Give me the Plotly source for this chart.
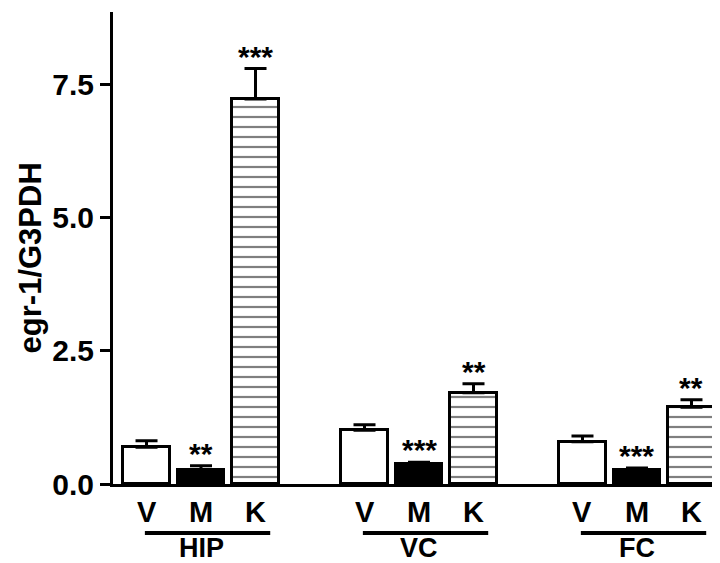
import plotly.graph_objects as go

regions = ["HIP", "VC", "FC"]
treatments = ["V", "M", "K"]
means = {
    "V": [0.69, 1.01, 0.79],
    "M": [0.26, 0.38, 0.26],
    "K": [7.22, 1.71, 1.44],
}
errors = {
    "V": [0.12, 0.10, 0.11],
    "M": [0.08, 0.03, 0.04],
    "K": [0.57, 0.17, 0.14],
}
stars = {
    "V": ["", "", ""],
    "M": ["**", "***", "***"],
    "K": ["***", "**", "**"],
}
y_ticks = [0, 2.5, 5.0, 7.5]
y_title = "egr-1/G3PDH"

FONT = "Liberation Sans, Arial, Helvetica, sans-serif"
GROUP_GAP = 4
PLOT_H = 563 - 4 - 87  # plot area height in px


def xpos(g, t):
    return g * GROUP_GAP + t


def py(px_below_axis):
    # paper coordinate for a pixel offset below the x axis
    return -px_below_axis / PLOT_H


fig = go.Figure()
for ti, t in enumerate(treatments):
    xs = [xpos(g, ti) for g in range(len(regions))]
    marker = dict(line=dict(color="black", width=3))
    if t == "V":
        marker["color"] = "white"
    elif t == "M":
        marker["color"] = "black"
    else:
        marker["color"] = "white"
        marker["pattern"] = dict(shape="-", size=10, solidity=0.22,
                                 fgcolor="black", bgcolor="white",
                                 fillmode="overlay")
    fig.add_trace(go.Bar(
        x=xs, y=means[t], width=0.86, marker=marker, showlegend=False,
        error_y=dict(type="data", array=errors[t], arrayminus=[0] * 3,
                     symmetric=False, color="black", thickness=3, width=11),
    ))
    for g in range(len(regions)):
        if stars[t][g]:
            fig.add_annotation(x=xs[g], y=means[t][g] + errors[t][g],
                               text="<b>" + stars[t][g] + "</b>", showarrow=False,
                               yanchor="bottom", yshift=-6,
                               font=dict(family=FONT, size=30, color="black"))

for g, r in enumerate(regions):
    for ti, t in enumerate(treatments):
        fig.add_annotation(x=xpos(g, ti), xref="x", y=py(28), yref="paper",
                           text="<b>" + t + "</b>", showarrow=False,
                           yanchor="middle", borderpad=0,
                           font=dict(family=FONT, size=29, color="black"))
    fig.add_shape(type="line", xref="x", yref="paper",
                  x0=xpos(g, 0) - 0.03, x1=xpos(g, 2) + 0.27, y0=py(49), y1=py(49),
                  line=dict(color="black", width=4))
    fig.add_annotation(x=xpos(g, 1), xref="x", y=py(64), yref="paper",
                       text="<b>" + r + "</b>", showarrow=False, yanchor="middle",
                       borderpad=0,
                       font=dict(family=FONT, size=27, color="black"))

fig.add_annotation(x=-0.135, xref="paper", y=0.48, yref="paper",
                   text="<b>" + y_title + "</b>", textangle=-90, showarrow=False,
                   xanchor="center", yanchor="middle", borderpad=0,
                   font=dict(family=FONT, size=31, color="black"))

fig.update_layout(
    width=720, height=563,
    margin=dict(l=105, r=0, t=4, b=87),
    plot_bgcolor="white", paper_bgcolor="white",
    bargap=0,
    xaxis=dict(range=[-0.615, 10.67], showticklabels=False,
               showline=True, linecolor="black", linewidth=3, ticks="",
               showgrid=False, zeroline=False),
    yaxis=dict(range=[0, 8.85], tickvals=y_ticks,
               ticktext=["<b>%.1f</b>" % v for v in y_ticks],
               showline=True, linecolor="black", linewidth=3, ticks="outside",
               ticklen=10, tickwidth=3, tickcolor="black",
               showgrid=False, zeroline=False,
               tickfont=dict(family=FONT, size=30, color="black")),
)

fig.write_html("out.html")
